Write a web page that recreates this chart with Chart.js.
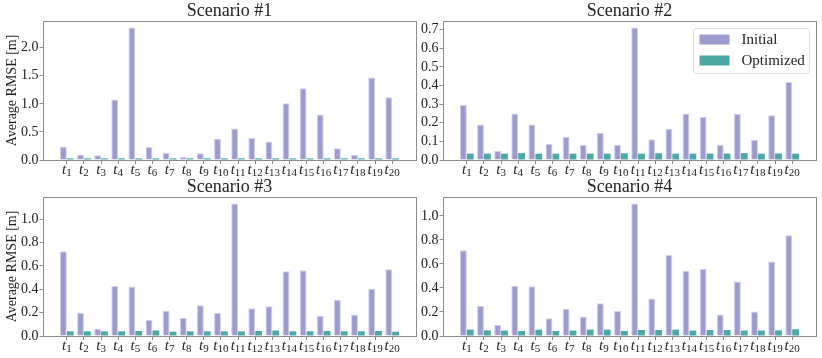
<!DOCTYPE html>
<html>
<head>
<meta charset="utf-8">
<script src="https://cdn.jsdelivr.net/npm/chart.js@4.4.1/dist/chart.umd.min.js"></script>
<style>
  html, body { margin: 0; padding: 0; background: #fff; }
  #wrap { position: relative; width: 822px; height: 358px; }
  canvas { position: absolute; }
</style>
</head>
<body>
<div id="wrap">
  <canvas id="s1" width="420" height="176" style="left:0;top:0"></canvas>
  <canvas id="s2" width="402" height="176" style="left:420px;top:0"></canvas>
  <canvas id="s3" width="420" height="182" style="left:0;top:176px"></canvas>
  <canvas id="s4" width="402" height="182" style="left:420px;top:176px"></canvas>
</div>
<script>
// task indices t1..t20
const taskIds = [1, 2, 3, 4, 5, 6, 7, 8, 9, 10, 11, 12, 13, 14, 15, 16, 17, 18, 19, 20];
const seriesNames = ['Initial', 'Optimized'];
const yLabel = 'Average RMSE [m]';

const initial1 = [0.24, 0.10, 0.085, 1.08, 2.36, 0.23, 0.13, 0.06, 0.12, 0.38, 0.56, 0.39, 0.33, 1.01, 1.28, 0.81, 0.21, 0.09, 1.47, 1.12];
const optimized1 = [0.03, 0.03, 0.03, 0.03, 0.03, 0.03, 0.03, 0.03, 0.03, 0.03, 0.03, 0.03, 0.03, 0.03, 0.03, 0.03, 0.03, 0.03, 0.03, 0.03];
const yTicks1 = [0.0, 0.5, 1.0, 1.5, 2.0];

const initial2 = [0.295, 0.19, 0.048, 0.249, 0.19, 0.086, 0.125, 0.082, 0.145, 0.082, 0.711, 0.111, 0.166, 0.249, 0.231, 0.082, 0.247, 0.109, 0.24, 0.419];
const optimized2 = [0.034, 0.034, 0.034, 0.037, 0.034, 0.034, 0.034, 0.034, 0.034, 0.036, 0.034, 0.036, 0.034, 0.034, 0.034, 0.034, 0.037, 0.034, 0.035, 0.034];
const yTicks2 = [0.0, 0.1, 0.2, 0.3, 0.4, 0.5, 0.6, 0.7];

const initial3 = [0.726, 0.2, 0.06, 0.429, 0.423, 0.137, 0.217, 0.154, 0.263, 0.197, 1.134, 0.237, 0.254, 0.554, 0.563, 0.174, 0.309, 0.183, 0.403, 0.571];
const optimized3 = [0.04, 0.04, 0.04, 0.04, 0.043, 0.047, 0.037, 0.04, 0.04, 0.04, 0.04, 0.043, 0.047, 0.04, 0.04, 0.043, 0.04, 0.04, 0.043, 0.037];
const yTicks3 = [0.0, 0.2, 0.4, 0.6, 0.8, 1.0];

const initial4 = [0.713, 0.251, 0.092, 0.418, 0.415, 0.148, 0.226, 0.162, 0.273, 0.209, 1.103, 0.312, 0.674, 0.543, 0.557, 0.178, 0.454, 0.203, 0.621, 0.838];
const optimized4 = [0.053, 0.047, 0.045, 0.042, 0.053, 0.042, 0.045, 0.053, 0.053, 0.042, 0.05, 0.05, 0.053, 0.045, 0.05, 0.05, 0.045, 0.045, 0.047, 0.056];
const yTicks4 = [0.0, 0.2, 0.4, 0.6, 0.8, 1.0];

const SERIF = "'Liberation Serif', 'DejaVu Serif', serif";
const INK = '#222';
const SPINE = '#8c8c8c';

// full box around the plot area, like matplotlib spines
const spineBox = {
    id: 'spineBox',
    afterDraw(chart) {
        const a = chart.chartArea;
        const ctx = chart.ctx;
        ctx.save();
        ctx.strokeStyle = SPINE;
        ctx.lineWidth = 1;
        ctx.strokeRect(Math.round(a.left) + 0.5, Math.round(a.top) + 0.5,
            Math.round(a.right - a.left), Math.round(a.bottom - a.top));
        ctx.restore();
    }
};

// x labels as italic t with a subscript number
const taskLabels = {
    id: 'taskLabels',
    afterDraw(chart) {
        const xs = chart.scales.x;
        const ctx = chart.ctx;
        const base = chart.chartArea.bottom;
        ctx.save();
        ctx.fillStyle = INK;
        ctx.textAlign = 'left';
        ctx.textBaseline = 'alphabetic';
        taskIds.forEach((n, i) => {
            ctx.font = 'italic 15px ' + SERIF;
            const tw = ctx.measureText('t').width;
            ctx.font = '11px ' + SERIF;
            const sw = ctx.measureText(String(n)).width;
            const x = xs.getPixelForValue(i) - (tw + sw) / 2;
            ctx.font = 'italic 15px ' + SERIF;
            ctx.fillText('t', x, base + 13.5);
            ctx.font = '11px ' + SERIF;
            ctx.fillText(String(n), x + tw, base + 16);
        });
        ctx.restore();
    }
};

// legend box in the upper right of the plot area
const boxLegend = {
    id: 'boxLegend',
    afterDraw(chart) {
        const a = chart.chartArea;
        const ctx = chart.ctx;
        const items = chart.data.datasets;
        ctx.save();
        ctx.font = '15px ' + SERIF;
        const textW = Math.max(...items.map(d => ctx.measureText(d.label).width));
        const w = Math.round(6 + 30 + 12 + textW + 5);
        const h = 45;
        const x0 = Math.round(a.right - 7 - w) + 0.5;
        const y0 = Math.round(a.top + 7) + 0.5;
        const r = 3;
        ctx.beginPath();
        ctx.moveTo(x0 + r, y0);
        ctx.lineTo(x0 + w - r, y0);
        ctx.arcTo(x0 + w, y0, x0 + w, y0 + r, r);
        ctx.lineTo(x0 + w, y0 + h - r);
        ctx.arcTo(x0 + w, y0 + h, x0 + w - r, y0 + h, r);
        ctx.lineTo(x0 + r, y0 + h);
        ctx.arcTo(x0, y0 + h, x0, y0 + h - r, r);
        ctx.lineTo(x0, y0 + r);
        ctx.arcTo(x0, y0, x0 + r, y0, r);
        ctx.closePath();
        ctx.fillStyle = 'rgba(255,255,255,0.8)';
        ctx.fill();
        ctx.strokeStyle = '#dcdcdc';
        ctx.stroke();
        items.forEach((d, i) => {
            const cy = y0 + 11 + i * 21;
            ctx.fillStyle = d.backgroundColor;
            ctx.fillRect(x0 + 6, cy - 5, 30, 10);
            ctx.fillStyle = INK;
            ctx.textBaseline = 'middle';
            ctx.fillText(d.label, x0 + 48, cy + 1);
        });
        ctx.restore();
    }
};

function drawPanel(canvasId, p) {
    const ctx = document.getElementById(canvasId).getContext('2d');
    // matplotlib style margins: 5% on x around the bar groups, 5% headroom on y
    const span = taskIds.length - 1 + 0.8;
    const xMin = -0.4 - 0.05 * span;
    const xMax = taskIds.length - 1 + 0.4 + 0.05 * span;
    const yMax = Math.max(...p.initial, ...p.optimized) * 1.05;

    new Chart(ctx, {
        type: 'bar',
        data: {
            datasets: [{
                label: seriesNames[0],
                data: p.initial.map((v, i) => ({ x: i, y: v })),
                backgroundColor: '#9b9bce',
                borderColor: '#cfcfeb',
                borderWidth: 1
            }, {
                label: seriesNames[1],
                data: p.optimized.map((v, i) => ({ x: i, y: v })),
                backgroundColor: '#4ba8a4',
                borderWidth: 0
            }]
        },
        options: {
            responsive: false,
            animation: false,
            layout: { padding: { left: 0, right: p.padRight, top: 0, bottom: 0 } },
            datasets: { bar: { categoryPercentage: 0.8, barPercentage: 1.0 } },
            scales: {
                x: {
                    type: 'linear',
                    offset: false,
                    min: xMin,
                    max: xMax,
                    border: { display: false },
                    grid: { offset: false, drawOnChartArea: false, drawTicks: true, tickLength: 4, color: SPINE },
                    ticks: { display: false },
                    afterBuildTicks: s => { s.ticks = taskIds.map((n, i) => ({ value: i })); },
                    afterFit: s => { s.height = p.xHeight; }
                },
                y: {
                    type: 'linear',
                    min: 0,
                    max: yMax,
                    border: { display: false },
                    grid: { drawOnChartArea: false, drawTicks: true, tickLength: 3.5, color: SPINE },
                    afterBuildTicks: s => { s.ticks = p.yTicks.map(v => ({ value: v })); },
                    ticks: {
                        callback: v => v.toFixed(1),
                        font: { family: SERIF, size: 14 },
                        color: INK,
                        padding: 1
                    },
                    title: {
                        display: !!p.yLabel,
                        text: p.yLabel,
                        font: { family: SERIF, size: 14 },
                        color: INK,
                        padding: { top: 4, bottom: 0 }
                    },
                    afterFit: s => { s.width = p.yWidth; }
                }
            },
            plugins: {
                legend: { display: false },
                tooltip: { enabled: false },
                title: {
                    display: true,
                    text: p.title,
                    fullSize: false,
                    color: INK,
                    font: { family: SERIF, size: 18, weight: 'normal', lineHeight: 1.05 },
                    padding: { top: 2, bottom: 0 }
                }
            }
        },
        plugins: p.legend ? [spineBox, taskLabels, boxLegend] : [spineBox, taskLabels]
    });
}

drawPanel('s1', { title: 'Scenario #1', initial: initial1, optimized: optimized1, yTicks: yTicks1, yLabel: yLabel, yWidth: 43, padRight: 4, xHeight: 16 });
drawPanel('s2', { title: 'Scenario #2', initial: initial2, optimized: optimized2, yTicks: yTicks2, yLabel: '', yWidth: 23, padRight: 6, xHeight: 16, legend: true });
drawPanel('s3', { title: 'Scenario #3', initial: initial3, optimized: optimized3, yTicks: yTicks3, yLabel: yLabel, yWidth: 43, padRight: 4, xHeight: 22 });
drawPanel('s4', { title: 'Scenario #4', initial: initial4, optimized: optimized4, yTicks: yTicks4, yLabel: '', yWidth: 23, padRight: 6, xHeight: 22 });
</script>
</body>
</html>
